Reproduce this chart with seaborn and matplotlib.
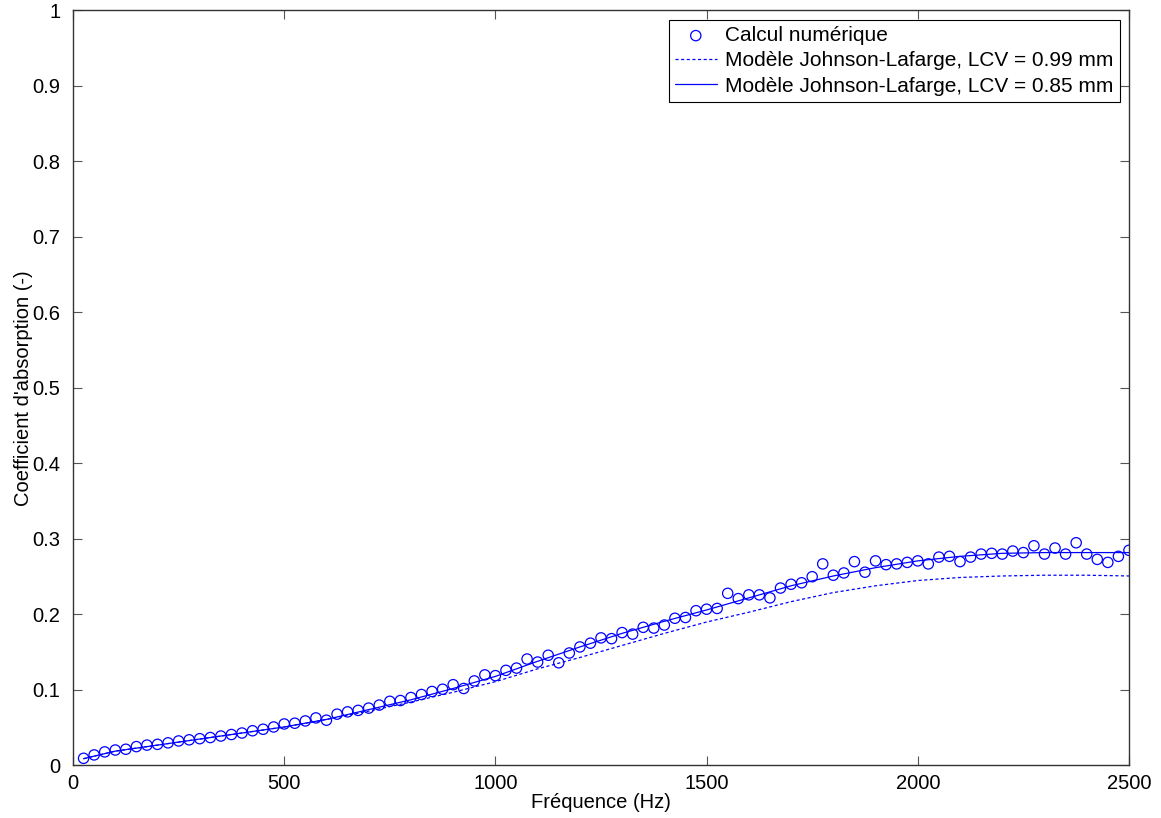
import numpy as np
import pandas as pd
import matplotlib
matplotlib.use("Agg")
import matplotlib.pyplot as plt
import seaborn as sns

# frequencies of the numerical points (Hz)
freq_pts = list(range(25, 2501, 25))
# absorption coefficient, numerical computation
alpha_num = [
    0.0095, 0.014, 0.018, 0.0205, 0.0215, 0.025, 0.027, 0.028, 0.030, 0.0325,
    0.034, 0.0355, 0.037, 0.039, 0.041, 0.043, 0.046, 0.048, 0.051, 0.055,
    0.056, 0.059, 0.063, 0.060, 0.068, 0.071, 0.073, 0.076, 0.080, 0.085,
    0.086, 0.090, 0.094, 0.098, 0.101, 0.107, 0.102, 0.112, 0.120, 0.119,
    0.126, 0.129, 0.141, 0.137, 0.146, 0.136, 0.149, 0.157, 0.162, 0.169,
    0.168, 0.176, 0.174, 0.183, 0.182, 0.186, 0.195, 0.196, 0.205, 0.207,
    0.208, 0.228, 0.221, 0.226, 0.226, 0.222, 0.235, 0.240, 0.242, 0.250,
    0.267, 0.252, 0.255, 0.270, 0.256, 0.271, 0.266, 0.267, 0.269, 0.271,
    0.267, 0.276, 0.277, 0.270, 0.276, 0.280, 0.281, 0.280, 0.284, 0.282,
    0.291, 0.280, 0.288, 0.280, 0.295, 0.280, 0.273, 0.269, 0.277, 0.285,
]

# model curves (Johnson-Lafarge)
freq_model = [25] + list(range(100, 2501, 100))
alpha_lcv099 = [
    0.009, 0.019, 0.027, 0.035, 0.043, 0.051, 0.061, 0.072, 0.084, 0.097,
    0.111, 0.128, 0.143, 0.159, 0.175, 0.190, 0.203, 0.217, 0.229, 0.238,
    0.245, 0.249, 0.251, 0.252, 0.252, 0.251,
]
alpha_lcv085 = [
    0.009, 0.019, 0.027, 0.035, 0.043, 0.051, 0.061, 0.074, 0.087, 0.102,
    0.118, 0.138, 0.157, 0.175, 0.191, 0.206, 0.222, 0.238, 0.251, 0.262,
    0.271, 0.277, 0.281, 0.282, 0.282, 0.282,
]

labels = ["Calcul numérique",
          "Modèle Johnson-Lafarge, LCV = 0.99 mm",
          "Modèle Johnson-Lafarge, LCV = 0.85 mm"]

df_pts = pd.DataFrame({"f": freq_pts, "alpha": alpha_num})
df_mod = pd.DataFrame({"f": freq_model, "a099": alpha_lcv099, "a085": alpha_lcv085})

sns.set_style("ticks")
plt.rcParams['font.family'] = ['Liberation Sans', 'DejaVu Sans']

blue = "#0000ff"
fig = plt.figure(figsize=(11.61, 8.18), dpi=100)
ax = fig.add_axes([0.0629, 0.0642, 0.9095, 0.9230])

sns.scatterplot(data=df_pts, x="f", y="alpha", ax=ax, marker="o", s=55,
                facecolors="none", edgecolor=blue, linewidth=0.9, label=labels[0])
sns.lineplot(data=df_mod, x="f", y="a099", ax=ax, color=blue, lw=0.9,
             linestyle=(0, (2.5, 2)), label=labels[1])
sns.lineplot(data=df_mod, x="f", y="a085", ax=ax, color=blue, lw=0.9, label=labels[2])

ax.set_xlim(0, 2500)
ax.set_ylim(0, 1)
ax.set_xticks([0, 500, 1000, 1500, 2000, 2500])
ax.set_yticks(np.round(np.arange(0, 1.01, 0.1), 1))
ax.set_yticklabels(["0", "0.1", "0.2", "0.3", "0.4", "0.5", "0.6", "0.7", "0.8", "0.9", "1"])
ax.set_xlabel("Fréquence (Hz)", fontsize=14.5, labelpad=0, color="black")
ax.set_ylabel("Coefficient d'absorption (-)", fontsize=14.5, labelpad=0, color="black")
ax.tick_params(direction="in", length=6.5, width=0.8, labelsize=14.5,
               top=True, right=True, color="#555555", labelcolor="black")
ax.tick_params(axis="y", pad=9)
ax.tick_params(axis="x", pad=6)
for sp in ax.spines.values():
    sp.set_visible(True)
    sp.set_color("#333333")
    sp.set_linewidth(1.0)

leg = ax.legend(loc="upper right", fontsize=15, frameon=True, fancybox=False,
                framealpha=1, edgecolor="black", borderpad=0.3, labelspacing=0.3,
                handlelength=2.0, handletextpad=0.4, borderaxespad=0.45)
leg.get_frame().set_linewidth(0.8)
for t in leg.get_texts():
    t.set_color("black")

fig.savefig("out.png", dpi=100)
